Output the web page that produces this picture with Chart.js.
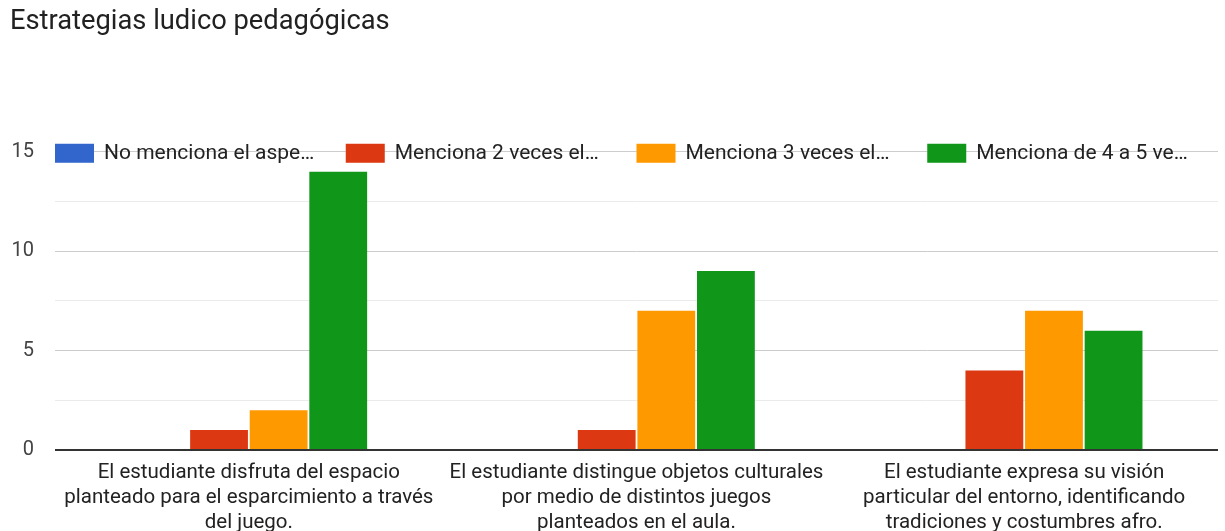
<!DOCTYPE html>
<html>
<head>
<meta charset="utf-8">
<script src="https://cdn.jsdelivr.net/npm/chart.js@4.4.1/dist/chart.umd.min.js"></script>
<style>
  html, body { margin: 0; padding: 0; background: #fff; }
  #wrap { width: 1225px; height: 531px; position: relative; }
</style>
</head>
<body>
<div id="wrap"><canvas id="c"></canvas></div>
<script>
const title = "Estrategias ludico pedagógicas";
const categories = [
  ["El estudiante disfruta del espacio", "planteado para el esparcimiento a través", "del juego."],
  ["El estudiante distingue objetos culturales", "por medio de distintos juegos", "planteados en el aula."],
  ["El estudiante expresa su visión", "particular del entorno, identificando", "tradiciones y costumbres afro."]
];
const seriesNames = ["No menciona el aspe…", "Menciona 2 veces el…", "Menciona 3 veces el…", "Menciona de 4 a 5 ve…"];
const noMenciona = [0, 0, 0];
const menciona2 = [1, 1, 4];
const menciona3 = [2, 7, 7];
const menciona4a5 = [14, 9, 6];
const colors = ["#3366cc", "#dc3912", "#ff9900", "#109618"];
const yTicks = [0, 5, 10, 15];

const seriesValues = [noMenciona, menciona2, menciona3, menciona4a5];

const legendPlugin = {
  id: 'gLegend',
  afterDatasetsDraw(chart) {
    const ctx = chart.ctx;
    const area = chart.chartArea;
    const y = chart.scales.y.getPixelForValue(15);
    const slot = area.width / chart.data.datasets.length;
    ctx.save();
    ctx.font = '21px Roboto, Arial, sans-serif';
    ctx.textBaseline = 'middle';
    ctx.textAlign = 'left';
    chart.data.datasets.forEach((ds, i) => {
      const x = area.left + i * slot;
      ctx.fillStyle = ds.backgroundColor;
      ctx.fillRect(x, y - 8, 39, 19);
      ctx.fillStyle = '#222';
      ctx.fillText(ds.label, x + 49, y + 2);
    });
    ctx.restore();
  }
};

new Chart(document.getElementById('c'), {
  type: 'bar',
  data: {
    labels: categories,
    datasets: seriesNames.map((n, i) => ({
      label: n,
      data: seriesValues[i],
      backgroundColor: colors[i],
      borderWidth: 0,
      categoryPercentage: 0.615,
      barPercentage: 0.97
    }))
  },
  options: {
    responsive: true,
    maintainAspectRatio: false,
    animation: false,
    layout: { padding: { left: 10, right: 7, top: 0, bottom: 0 } },
    plugins: {
      legend: { display: false },
      tooltip: { enabled: false },
      title: {
        display: true,
        text: title,
        align: 'start',
        color: '#212121',
        font: { family: 'Roboto', size: 27.3, weight: 'normal' },
        padding: { top: 6, bottom: 113 }
      }
    },
    scales: {
      x: {
        grid: { display: false },
        border: { display: false },
        ticks: {
          color: '#222',
          font: { family: 'Roboto', size: 20.5, lineHeight: 1.22 },
          maxRotation: 0,
          autoSkip: false,
          padding: 2
        },
        afterFit(s) { s.height = 81; }
      },
      y: {
        min: 0,
        max: 15,
        border: { display: false },
        grid: {
          drawTicks: false,
          color: ctx => ctx.tick.value === 0 ? '#333' : (yTicks.includes(ctx.tick.value) ? '#ccc' : '#ebebeb'),
          lineWidth: ctx => ctx.tick.value === 0 ? 2 : 1
        },
        ticks: {
          stepSize: 2.5,
          color: '#444',
          font: { family: 'Roboto', size: 20 },
          padding: 21,
          callback: v => yTicks.includes(v) ? String(v) : ''
        },
        afterFit(s) { s.width = 45; }
      }
    }
  },
  plugins: [legendPlugin]
});
</script>
</body>
</html>
